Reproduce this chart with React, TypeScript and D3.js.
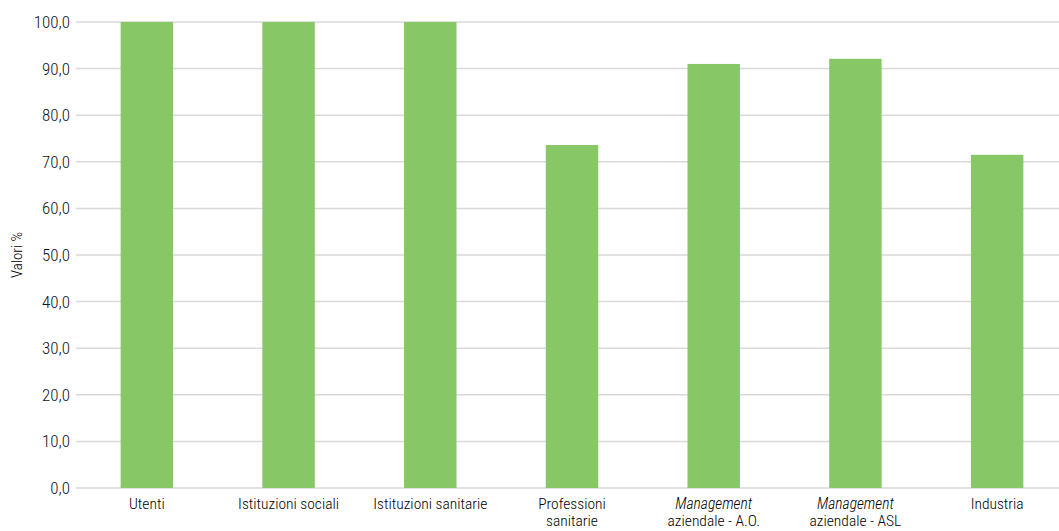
import React from "react";
import * as d3 from "d3";

const categories: string[][] = [
  ["Utenti"],
  ["Istituzioni sociali"],
  ["Istituzioni sanitarie"],
  ["Professioni", "sanitarie"],
  ["*Management", "aziendale - A.O."],
  ["*Management", "aziendale - ASL"],
  ["Industria"],
];
const values: number[] = [100, 100, 100, 73.6, 91.0, 92.1, 71.5];
const yTicks: number[] = [0, 10, 20, 30, 40, 50, 60, 70, 80, 90, 100];
const yTitle = "Valori %";

const W = 1059;
const H = 531;
const left = 76;
const right = 1068;
const top = 22;
const bottom = 488;
const FONT = "'Liberation Sans Narrow', 'Roboto Condensed', Roboto, sans-serif";

export default function App() {
  const idx = categories.map((_, i) => String(i));
  const x = d3.scaleBand().domain(idx).range([left, right]).paddingInner(0.63).paddingOuter(0.315);
  const y = d3.scaleLinear().domain([0, 100]).range([bottom, top]);
  const fmt = (v: number) => v.toFixed(1).replace(".", ",");
  return (
    <svg width={W} height={H} style={{ position: "absolute", left: 0, top: 0, background: "#fff" }}>
      {yTicks.map((t) => (
        <g key={t}>
          <line x1={left} x2={W} y1={y(t)} y2={y(t)} stroke="#d9d9d9" strokeWidth={1.5} />
          <text x={70} y={y(t)} dy="0.35em" textAnchor="end" fontFamily={FONT} fontSize={17} fontWeight={300} fill="#111">
            {fmt(t)}
          </text>
        </g>
      ))}
      {values.map((v, i) => (
        <rect key={i} x={x(String(i))} y={y(v)} width={x.bandwidth()} height={y(0) - y(v)} fill="#87c765" />
      ))}
      {categories.map((lines, i) => (
        <text key={i} textAnchor="middle" fontFamily={FONT} fontSize={15.5} fontWeight={300} fill="#000">
          {lines.map((l, j) => {
            const it = l.startsWith("*");
            return (
              <tspan key={j} x={(x(String(i)) as number) + x.bandwidth() / 2} y={509 + j * 17} fontStyle={it ? "italic" : "normal"}>
                {it ? l.slice(1) : l}
              </tspan>
            );
          })}
        </text>
      ))}
      <text transform={`translate(22,${(top + bottom) / 2}) rotate(-90)`} textAnchor="middle" fontFamily={FONT} fontSize={15} fontWeight={300} fill="#000">
        {yTitle}
      </text>
    </svg>
  );
}
